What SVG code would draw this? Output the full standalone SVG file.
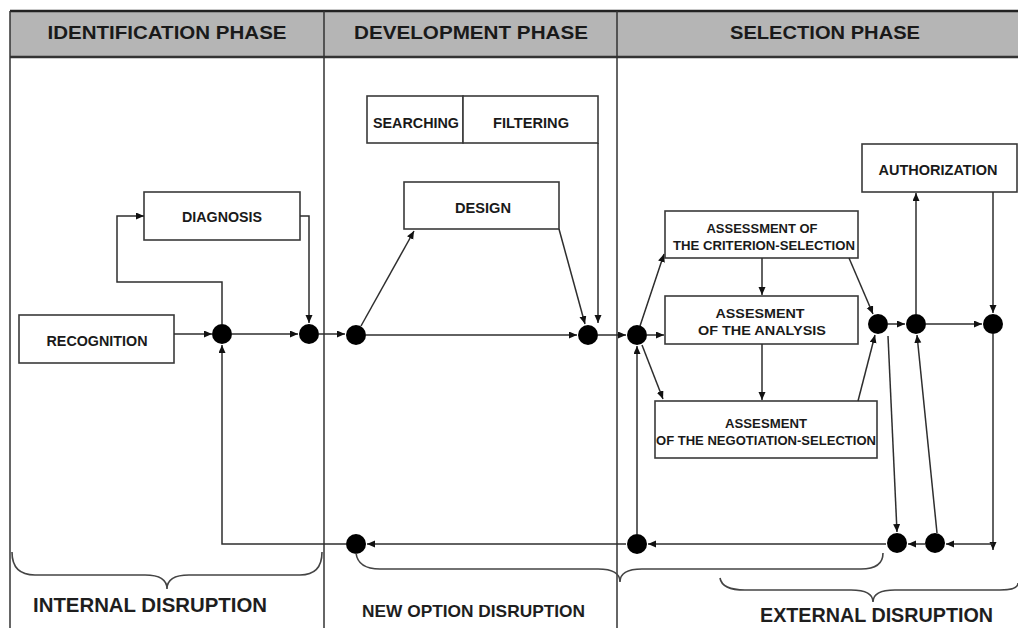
<svg xmlns="http://www.w3.org/2000/svg" width="1018" height="628" viewBox="0 0 1018 628">
<style>
.box{fill:#fff;stroke:#3a3a3a;stroke-width:1.6}
.t{font-family:"Liberation Sans",Arial,sans-serif;font-weight:bold;fill:#1a1a1a;text-anchor:middle}
.bt{font-size:15px}
.st{font-size:13.5px}
.ht{font-size:18.5px}
.lt{font-family:"Liberation Sans",Arial,sans-serif;font-weight:bold;fill:#1e1e1e}
.c{fill:none;stroke:#2e2e2e;stroke-width:1.5}
.ca{fill:none;stroke:#2e2e2e;stroke-width:1.5;marker-end:url(#ah)}
.dot{fill:#000}
.grid{stroke:#333;stroke-width:1.5;fill:none}
.brace{fill:none;stroke:#444;stroke-width:1.6}
</style>
<defs>
<marker id="ah" markerUnits="userSpaceOnUse" markerWidth="9" markerHeight="8" refX="8" refY="3.5" orient="auto">
<path d="M0,0 L8,3.5 L0,7 z" fill="#111"/>
</marker>
</defs>
<rect width="1018" height="628" fill="#fff"/>
<g id="header">
<rect x="10" y="11" width="1010" height="46" fill="#b5b5b5"/>
<line x1="10" y1="11" x2="1018" y2="11" stroke="#222" stroke-width="2.5"/>
<line x1="10" y1="57" x2="1018" y2="57" stroke="#333" stroke-width="2.5"/>
<text class="t ht" x="167" y="39" textLength="239" lengthAdjust="spacingAndGlyphs">IDENTIFICATION  PHASE</text>
<text class="t ht" x="471" y="39" textLength="234" lengthAdjust="spacingAndGlyphs">DEVELOPMENT  PHASE</text>
<text class="t ht" x="825" y="39" textLength="190" lengthAdjust="spacingAndGlyphs">SELECTION PHASE</text>
</g>
<g id="grid">
<line class="grid" x1="10" y1="11" x2="10" y2="628" stroke-width="2"/>
<line class="grid" x1="324" y1="11" x2="324" y2="628"/>
<line class="grid" x1="617" y1="11" x2="617" y2="628"/>
</g>
<g id="recognition">
<rect class="box" x="19" y="315" width="155" height="48"/>
<text class="t bt" x="97" y="345.5" textLength="101" lengthAdjust="spacingAndGlyphs">RECOGNITION</text>
</g>
<g id="diagnosis">
<rect class="box" x="144" y="192" width="156" height="48"/>
<text class="t bt" x="222" y="221.5" textLength="80" lengthAdjust="spacingAndGlyphs">DIAGNOSIS</text>
</g>
<g id="searching">
<rect class="box" x="367" y="96" width="96" height="47"/>
<text class="t bt" x="416" y="127.5" textLength="86" lengthAdjust="spacingAndGlyphs">SEARCHING</text>
</g>
<g id="filtering">
<rect class="box" x="463" y="96" width="135" height="47"/>
<text class="t bt" x="531" y="127.5" textLength="76" lengthAdjust="spacingAndGlyphs">FILTERING</text>
</g>
<g id="design">
<rect class="box" x="404" y="182" width="155" height="47"/>
<text class="t bt" x="483" y="212.5" textLength="56" lengthAdjust="spacingAndGlyphs">DESIGN</text>
</g>
<g id="criterion">
<rect class="box" x="665" y="211" width="193" height="47"/>
<text class="t st" x="762" y="233" textLength="111" lengthAdjust="spacingAndGlyphs">ASSESSMENT OF</text>
<text class="t st" x="764" y="249.5" textLength="182" lengthAdjust="spacingAndGlyphs">THE CRITERION-SELECTION</text>
</g>
<g id="analysis">
<rect class="box" x="665" y="296" width="193" height="48"/>
<text class="t st" x="760" y="318" textLength="89" lengthAdjust="spacingAndGlyphs">ASSESMENT</text>
<text class="t st" x="762" y="334.5" textLength="128" lengthAdjust="spacingAndGlyphs">OF THE ANALYSIS</text>
</g>
<g id="negotiation">
<rect class="box" x="655" y="401" width="222" height="57"/>
<text class="t st" x="766" y="428" textLength="82" lengthAdjust="spacingAndGlyphs">ASSESMENT</text>
<text class="t st" x="766" y="444.5" textLength="220" lengthAdjust="spacingAndGlyphs">OF THE NEGOTIATION-SELECTION</text>
</g>
<g id="authorization">
<rect class="box" x="862" y="144" width="155" height="48"/>
<text class="t bt" x="938" y="174.5" textLength="119" lengthAdjust="spacingAndGlyphs">AUTHORIZATION</text>
</g>
<g id="connectors">
<path class="ca" d="M174,334 L212,334"/>
<path class="ca" d="M222,324 L222,282 L117,282 L117,216 L144,216"/>
<path class="ca" d="M300,216 L309,216 L309,323"/>
<path class="ca" d="M232,334 L298,334"/>
<path class="ca" d="M319,334 L345,334"/>
<path class="ca" d="M361,326 L414,231"/>
<path class="ca" d="M559,229 L585,324"/>
<path class="ca" d="M598,143 L598,323"/>
<path class="ca" d="M366,335 L577,335"/>
<path class="ca" d="M598,335 L626,335"/>
<path class="ca" d="M640,326 L664,254"/>
<path class="ca" d="M647,335 L664,335"/>
<path class="ca" d="M642,345 L663,399"/>
<path class="ca" d="M762,258 L762,295"/>
<path class="ca" d="M762,344 L762,400"/>
<path class="ca" d="M849,258 L873,314"/>
<path class="ca" d="M858,401 L875,335"/>
<path class="ca" d="M888,324 L905,324"/>
<path class="ca" d="M916,314 L916,193"/>
<path class="ca" d="M926,324 L982,324"/>
<path class="ca" d="M993,192 L993,313"/>
<path class="ca" d="M993,334 L993,550"/>
<path class="ca" d="M888,336 L897,532"/>
<path class="ca" d="M937,533 L917,335"/>
<path class="ca" d="M993,544 L946,544"/>
<path class="ca" d="M925,544 L908,544"/>
<path class="ca" d="M886,544 L648,544"/>
<path class="ca" d="M637,534 L637,346"/>
<path class="ca" d="M626,544 L367,544"/>
<path class="ca" d="M346,544 L222,544 L222,345"/>
</g>
<g id="junctions">
<circle class="dot" cx="222" cy="334" r="10"/>
<circle class="dot" cx="309" cy="334" r="10"/>
<circle class="dot" cx="356" cy="335" r="10"/>
<circle class="dot" cx="588" cy="335" r="10"/>
<circle class="dot" cx="637" cy="335" r="10"/>
<circle class="dot" cx="878" cy="324" r="10"/>
<circle class="dot" cx="916" cy="324" r="10"/>
<circle class="dot" cx="993" cy="324" r="10"/>
<circle class="dot" cx="356" cy="544" r="10"/>
<circle class="dot" cx="637" cy="544" r="10"/>
<circle class="dot" cx="897" cy="543" r="10"/>
<circle class="dot" cx="935" cy="543" r="10"/>
</g>
<g id="braces">
<path class="brace" d="M12,552 Q12,575 35,575 L145,575 Q167,575 167,589 Q167,575 189,575 L300,575 Q322,575 322,552"/>
<path class="brace" d="M356,553 Q358,569 380,569 L598,569 Q620,569 620,582 Q620,569 642,569 L861,569 Q883,569 883,553"/>
<path class="brace" d="M720,578 Q722,590 745,590 L851,590 Q873,590 873,602 Q873,590 895,590 L1000,590 Q1018,590 1018,583"/>
</g>
<g id="labels">
<text class="lt" x="33" y="612" font-size="21" textLength="234" lengthAdjust="spacingAndGlyphs">INTERNAL  DISRUPTION</text>
<text class="lt" x="362" y="617" font-size="17" textLength="223" lengthAdjust="spacingAndGlyphs">NEW OPTION DISRUPTION</text>
<text class="lt" x="760" y="622" font-size="20" textLength="233" lengthAdjust="spacingAndGlyphs">EXTERNAL DISRUPTION</text>
</g>
</svg>
